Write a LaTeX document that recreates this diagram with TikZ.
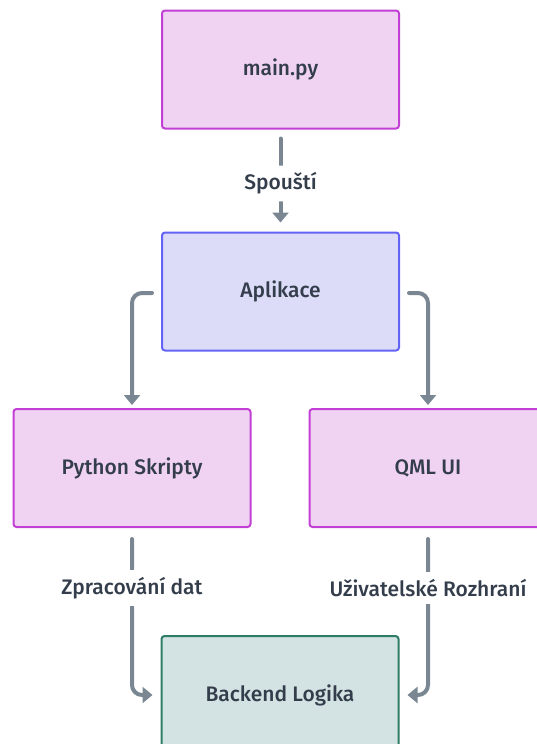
\documentclass[tikz,border=0pt]{standalone}
\usepackage{fontspec}
\setmainfont{Fira Sans Medium}
\usetikzlibrary{arrows.meta}
\definecolor{txt}{HTML}{333D4B}
\definecolor{arr}{HTML}{7A8793}
\definecolor{pinkfill}{HTML}{F0D3F2}
\definecolor{pinkdraw}{HTML}{C23FD6}
\definecolor{bluefill}{HTML}{DCDCF8}
\definecolor{bluedraw}{HTML}{6464F4}
\definecolor{greenfill}{HTML}{D3E3E3}
\definecolor{greendraw}{HTML}{2E7D66}
\tikzset{
  box/.style={draw, line width=2pt, rounded corners=3pt, minimum width=237pt, minimum height=118pt, inner sep=0pt, text=txt, font=\fontsize{21}{25}\selectfont},
  pinkbox/.style={box, fill=pinkfill, draw=pinkdraw},
  bluebox/.style={box, fill=bluefill, draw=bluedraw},
  greenbox/.style={box, fill=greenfill, draw=greendraw},
  conn/.style={draw=arr, line width=4pt, line cap=round, rounded corners=10pt, -{Triangle[width=16pt,length=10pt]}},
  lbl/.style={fill=white, text=txt, inner xsep=3pt, inner ysep=7pt, font=\fontsize{21}{25}\selectfont}
}
\begin{document}
\begin{tikzpicture}[x=1pt,y=-1pt]
\useasboundingbox (0,0) rectangle (537,744);
\node[pinkbox] (main) at (280.5,69.5) {main.py};
\node[bluebox] (app) at (280.5,291.5) {Aplikace};
\node[pinkbox] (py) at (132,468) {Python Skripty};
\node[pinkbox] (qml) at (428,468) {QML UI};
\node[greenbox] (be) at (280,695) {Backend Logika};
\draw[conn, shorten <=9pt, shorten >=9pt] (main.south) -- node[lbl, pos=0.53] {Spouští} (app.north);
\coordinate (al) at (152,293);
\coordinate (ar) at (409,293);
\draw[conn, shorten >=3pt] (al) -| (py.north);
\draw[conn, shorten >=3pt] (ar) -| (qml.north);
\coordinate (pb) at (132,539);
\coordinate (qb) at (428,539);
\draw[conn, shorten >=8pt] (pb) |- node[lbl, pos=0.157] {Zpracování dat} (be.west);
\draw[conn, shorten >=8pt] (qb) |- node[lbl, pos=0.157] {Uživatelské Rozhraní} (be.east);
\end{tikzpicture}
\end{document}
